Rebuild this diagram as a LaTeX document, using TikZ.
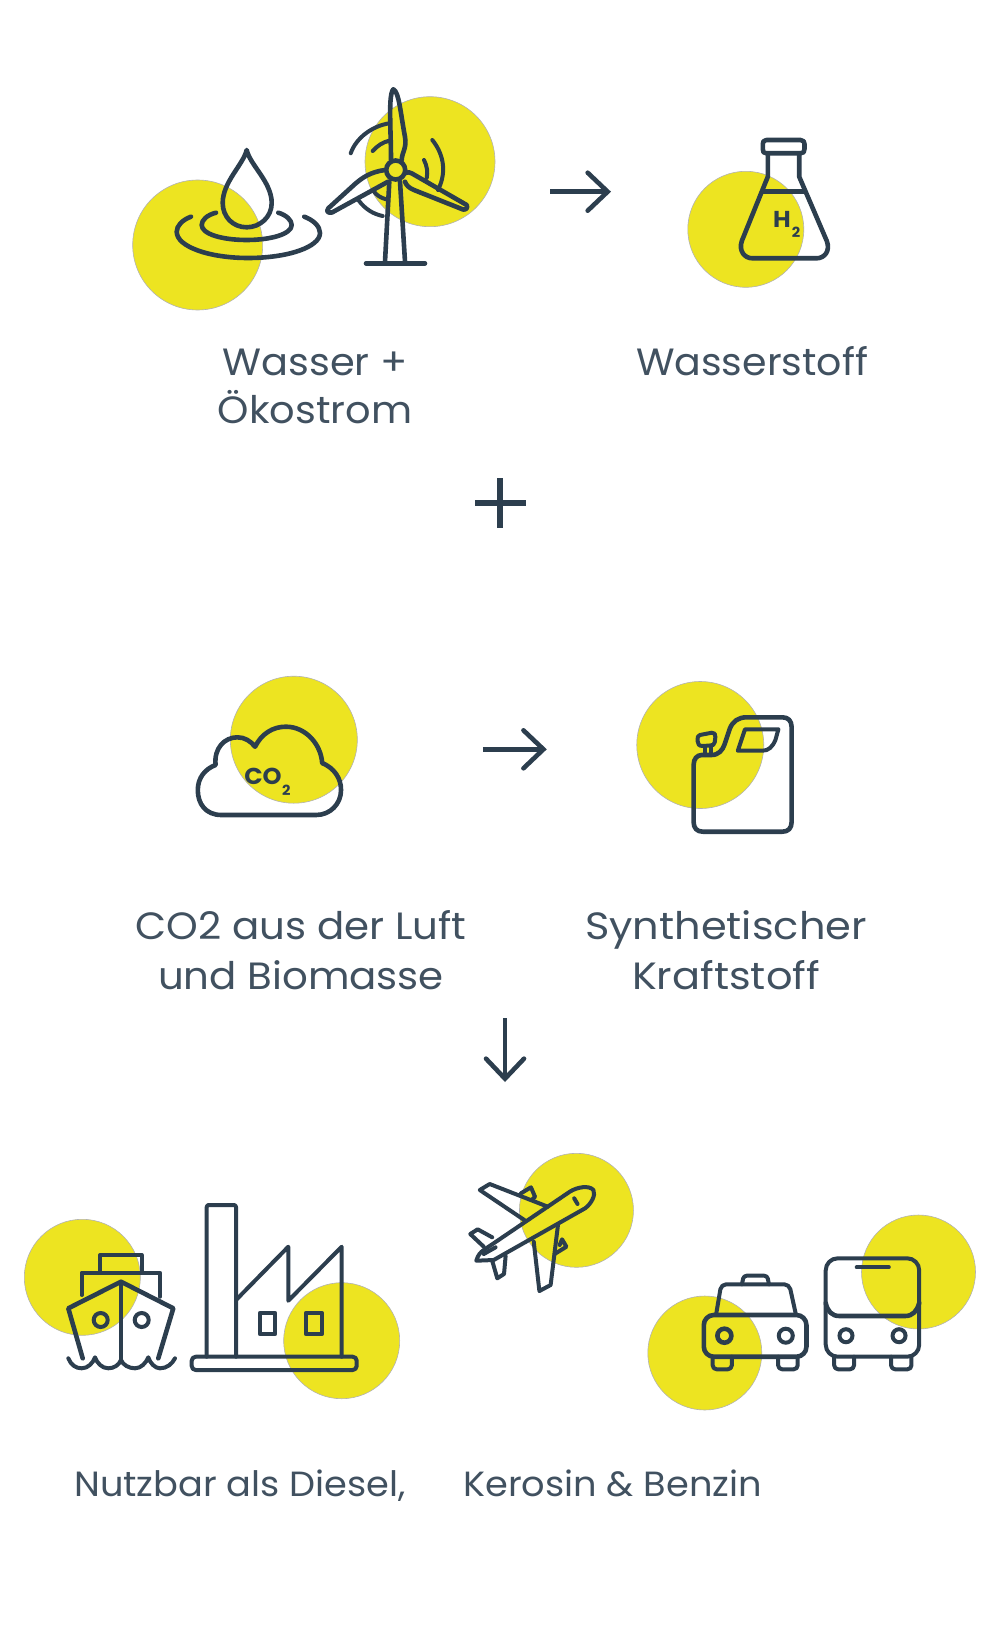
\documentclass[tikz,border=0pt]{standalone}
\usepackage{fontspec}
\setmainfont{Poppins}[FakeStretch=1.05]
\usetikzlibrary{arrows.meta}
\definecolor{ink}{HTML}{2C3E4E}
\definecolor{lemon}{HTML}{EDE421}
\tikzstyle{blob} = [draw=black!30, line width=0.6pt, fill=lemon, circle, inner sep=0pt]
\tikzstyle{line} = [draw=ink, line width=4.6pt, line cap=round, line join=round]
\tikzstyle{thin} = [draw=ink, line width=4pt, line cap=round, line join=round]
\tikzstyle{pfeil} = [draw=ink, line width=4.6pt, -{Straight Barb[length=20pt,width=38pt,line cap=round]}]
\tikzstyle{label} = [text=ink!90, font={\fontsize{38}{48}\selectfont}, align=center, inner sep=0pt]
\tikzstyle{small} = [text=ink!90, font={\fontsize{35}{40}\selectfont}, inner sep=0pt, anchor=base]
\tikzstyle{formula} = [text=ink, font={\bfseries\fontsize{23}{23}\selectfont}, inner sep=0pt]
\tikzstyle{index} = [text=ink, font={\bfseries\fontsize{14}{14}\selectfont}, inner sep=0pt]

\begin{document}
\begin{tikzpicture}[x=1pt,y=-1pt]
  \useasboundingbox (0,0) rectangle (1000,1645);
  % circles
  \node[blob,minimum size=130pt](wasserkreis) at (197.7,245){};
  \node[blob,minimum size=130pt](windkreis) at (430,161.7){};
  \node[blob,minimum size=116pt](schiffkreis) at (82.3,1277.3){};
  \node[blob,minimum size=116pt](fabrikkreis) at (341.7,1340.7){};
  % drop
  \draw[line] (246.7,150) .. controls (243,165) and (222.7,182) .. (222.7,203) .. controls (222.7,217) and (233,227.3) .. (246.7,227.3) .. controls (260,227.3) and (271.7,217) .. (271.7,203) .. controls (271.7,182) and (250,165) .. cycle;
  \draw[line] (216,212.7) .. controls (207,215) and (201.7,220) .. (201.7,225) .. controls (201.7,234) and (222,240) .. (246.7,240) .. controls (271,240) and (291.7,234) .. (291.7,225) .. controls (291.7,220) and (286,215) .. (278.3,212.7);
  \draw[line] (191,216.7) .. controls (182,220) and (176.7,226) .. (176.7,231.7) .. controls (176.7,247) and (210,258) .. (248,258) .. controls (288,258) and (320,247) .. (320,233) .. controls (320,226) and (313,220) .. (304.3,216.7);
  % wind turbine
  \draw[line] (366,263.3) -- (425,263.3);
  \draw[line] (389.3,181.7) -- (385,261.7);
  \draw[line] (400,181.7) -- (405,261.7);
  \draw[line] (391,160) .. controls (391,130) and (388,95) .. (393.3,89.3) .. controls (399,92) and (400,110) .. (405,137) .. controls (407,148) and (402,152) .. (401.7,160);
  \draw[line] (405,173) .. controls (408,172) and (410,172) .. (412,173.5) -- (466.7,205) .. controls (468,208) and (466,210) .. (463,209.5) -- (414,190) .. controls (409,188) and (406,185) .. (405,181.7);
  \draw[line] (385,170) .. controls (370,172) and (362,178) .. (355,184) -- (328.3,208.3) .. controls (326,212) and (328,213) .. (332,212.5) -- (388,181.7);
  \node[draw=ink,line width=4.6pt,circle,inner sep=0pt,minimum size=19pt](nabe) at (395.7,170){};
  \draw[thin] (350.7,153.3) .. controls (356,138) and (372,126) .. (389.3,123.3);
  \draw[thin] (372.7,151) .. controls (377,146) and (383,142) .. (389.3,140.7);
  \draw[thin] (432.3,140) .. controls (442,152) and (448,170) .. (438,190);
  \draw[thin] (424,160) .. controls (427,166) and (428,172) .. (426.7,178);
  \draw[thin] (358.3,200) .. controls (365,209) and (373,214) .. (382.7,216);
  \draw[thin] (373.3,190.7) .. controls (376,195) and (381,198) .. (386,199.3);
  % flask
  \begin{scope}[xshift=-1.5pt]
  \node[blob,minimum size=116pt](flaschenkreis) at (747.3,229.3){};
  \draw[line] (768,140) -- (802,140) .. controls (805,140) and (806,142) .. (806,144) -- (806,149) .. controls (806,152) and (805,153.3) .. (802,153.3) -- (768,153.3) .. controls (765,153.3) and (764.3,152) .. (764.3,149) -- (764.3,144) .. controls (764.3,142) and (765,140) .. (768,140) -- cycle;
  \draw[line] (769.3,153.3) -- (769.3,176.7) -- (743.3,241) .. controls (740,251) and (746,258.3) .. (754,258.3) -- (818,258.3) .. controls (826,258.3) and (832,251) .. (828.3,241) -- (800.7,176.7) -- (800.7,153.3);
  \draw[line] (765,191.7) -- (806,191.7);
  \node[formula](h) at (783.5,219){H};
  \node[index](hzwei) at (797.5,232){2};
  \end{scope}
  \begin{scope}[xshift=1.08pt,xscale=.994]
  \node[blob,minimum size=127pt](wolkenkreis) at (294.5,739.7){};
  \node[blob,minimum size=127pt](kanisterkreis) at (703.4,745){};
  % cloud
  \draw[line] (221.7,815) .. controls (206,815) and (197.9,804) .. (197.9,790) .. controls (197.9,778) and (205,769) .. (215.8,765) .. controls (214,748) and (225,737.3) .. (237.6,737.3) .. controls (245,737.3) and (251,741) .. (255.5,746.7) .. controls (262,734) and (273,726.7) .. (286.5,726.7) .. controls (307,726.7) and (322,745) .. (323,763) .. controls (335,768) and (342,778) .. (342,790) .. controls (342,804) and (331,815) .. (317,815) -- cycle;
  \node[formula](co) at (263.5,776){CO};
  \node[index](cozwei) at (287,790){2};
  % canister
  \draw[line] (696.7,765) .. controls (696.7,759) and (700,755) .. (705,755) -- (714.6,755) .. controls (722,755) and (726,750) .. (728,744) -- (733,729) .. controls (736,721) and (742,717.3) .. (750,717.3) -- (786,717.3) .. controls (792,717.3) and (795.3,721) .. (795.3,727) -- (795.3,822) .. controls (795.3,828) and (792,831.7) .. (786,831.7) -- (706,831.7) .. controls (700,831.7) and (696.7,828) .. (696.7,822) -- cycle;
  \draw[thin] (703,735) -- (715,732.7) .. controls (718,732.7) and (718.6,734) .. (718.6,737) -- (718,742) .. controls (717.6,745) and (716,745.5) .. (713,745.5) -- (706,746) .. controls (702,746) and (700.7,744) .. (700.7,741) .. controls (700.7,737) and (701,735.5) .. (703,735) -- cycle;
  \draw[thin] (708.6,747) -- (708.6,755);
  \draw[thin] (714.6,747) -- (714.6,755);
  \draw[thin] (748.4,729.3) -- (782,729.3) -- (779,740) .. controls (776,747) and (772,750.7) .. (766,750.7) -- (741.2,750.7) -- cycle;
  \coordinate (b1) at (484.8,749.3);
  \coordinate (b2) at (549,749.3);
  \draw[pfeil](b1)--(b2);
  \end{scope}
  % ship
  \draw[thin] (100,1271.7) -- (100,1255) -- (141.7,1255) -- (141.7,1271.7);
  \draw[thin] (81.7,1295) -- (81.7,1272.7) -- (160,1272.7) -- (160,1296.7);
  \draw[line] (82.7,1358.3) -- (68.3,1308.3) -- (121,1281.7) -- (173.3,1308.3) -- (158.3,1358.3);
  \draw[thin] (121,1281.7) -- (121,1360);
  \node[draw=ink,line width=4pt,circle,inner sep=0pt,minimum size=14pt](bullauge) at (100.7,1320){};
  \node[draw=ink,line width=4pt,circle,inner sep=0pt,minimum size=14pt](bullauge2) at (141.7,1320){};
  \draw[thin] (68.3,1358.3) .. controls (71,1365) and (76,1368.3) .. (81.7,1368.3) .. controls (88,1368.3) and (93,1363) .. (95,1357.3) .. controls (97,1363) and (102,1368.3) .. (108.3,1368.3) .. controls (114,1368.3) and (119,1365) .. (121,1360) .. controls (123,1365) and (129,1368.3) .. (135,1368.3) .. controls (141,1368.3) and (146,1363) .. (148.3,1357.3) .. controls (150,1363) and (155,1368.3) .. (160,1368.3) .. controls (167,1368.3) and (172,1364) .. (175,1358.3);
  % factory
  \draw[thin,rounded corners=4pt] (191.7,1356.7) rectangle (356.7,1370);
  \draw[thin,rounded corners=2pt] (206.7,1356.7) -- (206.7,1205) -- (236,1205) -- (236,1356.7);
  \draw[thin] (236,1300) -- (288.3,1246.7) -- (288.3,1300.7) -- (341.7,1246.7) -- (341.7,1356.7);
  \draw[thin] (260,1312.7) rectangle (275,1334.3);
  \draw[thin] (306,1312.7) rectangle (321.7,1334.3);
  \begin{scope}[xshift=2.9pt,xscale=.9935]
  \node[blob,minimum size=114pt](flugkreis) at (577.3,1210.3){};
  \node[blob,minimum size=114pt](taxikreis) at (706.5,1353){};
  \node[blob,minimum size=114pt](buskreis) at (921.6,1272){};
  % plane
  \draw[thin] (476.5,1260.7) .. controls (478,1255) and (481,1252) .. (484,1250) -- (570.6,1191.7) .. controls (578,1187) and (590,1185) .. (594.4,1190) .. controls (597,1195) and (592,1204) .. (586,1208.3) -- (494,1260) -- cycle;
  \draw[thin] (548.5,1206.7) -- (490,1184) -- (480,1190) -- (524.8,1220);
  \draw[thin] (558.7,1225) -- (551.3,1285) -- (540,1291) -- (534.3,1241.7);
  \draw[thin] (521.4,1193.3) -- (531.5,1187.3) -- (535.6,1196.7) -- (533,1199.3);
  \draw[thin] (560.4,1245) -- (562.8,1239.3) -- (567.2,1246.7) -- (555.3,1254);
  \draw[thin] (492.5,1237.3) -- (477.9,1229.3) -- (470.4,1234) -- (484,1246.7);
  \draw[thin] (506,1256) -- (504.4,1274) -- (497.6,1278.3) -- (492.5,1260.7);
  \draw[thin] (575,1198.3) -- (578.4,1204);
  \draw[thin] (484,1254) -- (495.9,1247.3);
  % taxi
  \draw[line,rounded corners=10pt] (705.5,1315) rectangle (808.8,1356.7);
  \draw[thin,rounded corners=5pt] (717.8,1315) -- (723,1284.3) -- (791.5,1284.3) -- (798.3,1315);
  \draw[thin,rounded corners=3pt] (743.9,1284.3) -- (745.6,1275.7) -- (769.4,1275.7) -- (771,1284.3);
  \draw[thin,rounded corners=4pt] (714.4,1356.7) -- (714.4,1369.3) -- (733.7,1369.3) -- (733.7,1356.7);
  \draw[thin,rounded corners=4pt] (780.3,1356.7) -- (780.3,1369.3) -- (800,1369.3) -- (800,1356.7);
  \node[draw=ink,line width=4.6pt,circle,inner sep=0pt,minimum size=14pt](lampe) at (726.2,1335.7){};
  \node[draw=ink,line width=4pt,circle,inner sep=0pt,minimum size=14pt](lampe2) at (788,1335.7){};
  % bus
  \draw[thin,rounded corners=12pt] (828.2,1258.3) rectangle (922.3,1356.7);
  \draw[line] (828.2,1303) .. controls (830,1311) and (834,1316) .. (842,1316) -- (908,1316) .. controls (916,1316) and (920,1311) .. (922.3,1303);
  \draw[thin] (859.4,1267.3) -- (891.7,1267.3);
  \node[draw=ink,line width=4pt,circle,inner sep=0pt,minimum size=13pt](buslampe) at (848.6,1335.7){};
  \node[draw=ink,line width=4pt,circle,inner sep=0pt,minimum size=13pt](buslampe2) at (902,1335.7){};
  \draw[thin,rounded corners=4pt] (836.7,1356.7) -- (836.7,1369.3) -- (856.7,1369.3) -- (856.7,1356.7);
  \draw[thin,rounded corners=4pt] (894,1356.7) -- (894,1369.3) -- (914.5,1369.3) -- (914.5,1356.7);
  \end{scope}
  % arrows
  \coordinate (a1) at (550,191.7);
  \coordinate (a2) at (611,191.7);
  \coordinate (c1) at (505,1018);
  \coordinate (c2) at (505,1082);
  \coordinate (plusl) at (475,502.5);
  \coordinate (plusr) at (525.7,502.5);
  \coordinate (pluso) at (500.3,478);
  \coordinate (plusu) at (500.3,528);
  \draw[pfeil](a1)--(a2);
  \draw[pfeil](c1)--(c2);
  \draw[draw=ink,line width=6pt](plusl)--(plusr);
  \draw[draw=ink,line width=6pt](pluso)--(plusu);
  % texts
  \node[label](wasser) at (315,386){Wasser +\\Ökostrom};
  \node[label,xscale=.99,transform shape](wasserstoff) at (752,361.5){Wasserstoff};
  \node[label,xscale=1.01,transform shape](co2) at (301,950){CO2 aus der Luft\\[2pt]und Biomasse};
  \node[label,xscale=1.04,transform shape](synth) at (726,950){Synthetischer\\[2pt]Kraftstoff};
  \node[small](nutzbar) at (240,1496){Nutzbar als Diesel,};
  \node[small](kerosin) at (612.7,1496){Kerosin \& Benzin};
\end{tikzpicture}
\end{document}
